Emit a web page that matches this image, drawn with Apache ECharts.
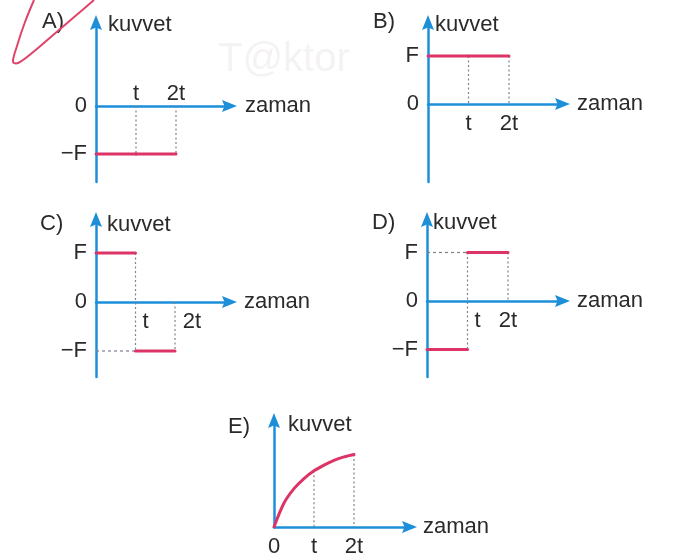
<!DOCTYPE html>
<html>
<head>
<meta charset="utf-8">
<script src="https://cdn.jsdelivr.net/npm/echarts@6/dist/echarts.min.js"></script>
<style>
  html, body { margin: 0; padding: 0; background: #ffffff; }
  #chart { width: 677px; height: 558px; }
</style>
</head>
<body>
<div id="chart"></div>
<script>
// Five force–time sketches (options A–E), each drawn on its own grid.
const FONT = '"Liberation Sans", Arial, Helvetica, sans-serif';
const AXIS_BLUE = '#1d8fd9';
const FORCE_RED = '#dc3466';
const GUIDE_GREY = '#7d818c';
const INK = '#2a2a2a';

// Tick values and their labels
const timeTicks = [1, 2];
const timeTickLabels = ['t', '2t'];
const forceLevels = [1, 0, -1];
const forceLabels = ['F', '0', '−F'];

// Constant force on each interval [0,t] and [t,2t], in units of F
const forceA = [-1, -1];
const forceB = [1, 1];
const forceC = [1, -1];
const forceD = [-1, 1];

// Option E: rising, levelling-off force curve
const curveTimes = [0, 0.25, 0.5, 0.75, 1, 1.25, 1.5, 1.75, 2];
const curveE = [0, 0.50, 0.80, 1.01, 1.17, 1.29, 1.39, 1.46, 1.51];

// Pixel layout of each small plot (origin, units, arrow ends, label placement)
const ARROW = [12, 15];
const ARROW_PATH = 'path://M6,0 L12,15 L6,12.5 L0,15 Z';
const HALF = ARROW[1] / 2;
const layouts = [
  { tag: 'A)', tagX: 42, tagY: 21.5, ox: 96, oy: 106, xs: 40, ys: 48, tip: 237, top: 15, bottom: 182,
    nameY: 25, nameDx: 12, zamanX: 245, yTicks: [0, -1], xInside: true, xShift: [0, 0], force: forceA },
  { tag: 'B)', tagX: 373, tagY: 21.5, ox: 428, oy: 104, xs: 40.5, ys: 48, tip: 570, top: 15, bottom: 182,
    nameY: 25, nameDx: 7, zamanX: 577, yTicks: [1, 0], xInside: false, xShift: [0, 0], force: forceB },
  { tag: 'C)', tagX: 40, tagY: 223.5, ox: 96, oy: 302, xs: 39.5, ys: 49, tip: 237, top: 212, bottom: 377,
    nameY: 225, nameDx: 11, zamanX: 244, yTicks: [1, 0, -1], xInside: false, xShift: [10, 17], force: forceC },
  { tag: 'D)', tagX: 372, tagY: 223, ox: 427, oy: 301, xs: 40.5, ys: 48.5, tip: 570, top: 212, bottom: 377,
    nameY: 223, nameDx: 6, zamanX: 577, yTicks: [1, 0, -1], xInside: false, xShift: [10, 0], force: forceD },
  { tag: 'E)', tagX: 228, tagY: 426.5, ox: 274, oy: 527, xs: 40, ys: 48, tip: 417, top: 413, bottom: 527,
    nameY: 425, nameDx: 14, zamanX: 423, yTicks: [], xInside: false, xShift: [0, 0], curve: true }
];

const textBase = { color: INK, fontSize: 22, fontFamily: FONT };

const grids = [], xAxes = [], yAxes = [], series = [], graphics = [];

function redLine(i, data, smooth) {
  return {
    type: 'line', xAxisIndex: i, yAxisIndex: i, data: data,
    smooth: smooth ? 0.3 : false,
    showSymbol: false, silent: true, z: 3,
    lineStyle: { color: FORCE_RED, width: 3, cap: 'round' }
  };
}
function guide(i, data, dash) {
  return {
    type: 'line', xAxisIndex: i, yAxisIndex: i, data: data,
    showSymbol: false, silent: true, z: 1,
    lineStyle: { color: GUIDE_GREY, width: 1.2, type: dash }
  };
}

layouts.forEach((L, i) => {
  const lineEndX = L.tip - HALF;
  const lineEndY = L.top + HALF;
  grids.push({ left: L.ox, top: lineEndY, width: lineEndX - L.ox, height: L.bottom - lineEndY });

  const rich = {};
  L.xShift.forEach((s, k) => {
    rich['s' + k] = Object.assign({}, textBase, { padding: [0, 0, 0, 2 * s] });
  });
  const xValues = L.curve ? [0].concat(timeTicks) : timeTicks.slice();

  // the time axis sits on the zero-force level: shift it up from the grid bottom
  xAxes.push({
    type: 'value', gridIndex: i, min: 0, max: (lineEndX - L.ox) / L.xs,
    position: 'bottom', offset: -(L.bottom - L.oy),
    axisLine: { onZero: false, symbol: ['none', ARROW_PATH], symbolSize: ARROW,
                lineStyle: { color: AXIS_BLUE, width: 2.5 } },
    axisTick: { show: false }, splitLine: { show: false },
    axisLabel: Object.assign({}, textBase, {
      customValues: xValues, inside: L.xInside, margin: L.xInside ? 1 : 9,
      rich: rich,
      formatter: (v) => {
        const k = timeTicks.indexOf(v);
        if (k >= 0) return '{s' + k + '|' + timeTickLabels[k] + '}';
        return v === 0 ? '0' : '';
      }
    }),
    name: 'zaman', nameLocation: 'end', nameGap: L.zamanX - lineEndX,
    nameTextStyle: Object.assign({}, textBase, { align: 'left', verticalAlign: 'middle' })
  });

  const ymax = (L.oy - lineEndY) / L.ys;
  const ymin = -(L.bottom - L.oy) / L.ys;
  yAxes.push({
    type: 'value', gridIndex: i, min: ymin, max: ymax, position: 'left',
    axisLine: { onZero: false, symbol: ['none', ARROW_PATH], symbolSize: ARROW,
                lineStyle: { color: AXIS_BLUE, width: 2.5 } },
    axisTick: { show: false }, splitLine: { show: false },
    axisLabel: Object.assign({}, textBase, {
      show: L.yTicks.length > 0,
      customValues: L.yTicks.length ? L.yTicks : [0], margin: 9,
      formatter: (v) => {
        const k = forceLevels.indexOf(v);
        return k >= 0 ? forceLabels[k] : '';
      }
    }),
    name: 'kuvvet', nameLocation: 'end', nameGap: -(L.nameY - lineEndY),
    nameTextStyle: Object.assign({}, textBase, { align: 'left', verticalAlign: 'middle', padding: [0, 0, 0, L.nameDx] })
  });

  if (L.force) {
    const f = L.force;
    const start = (k) => (k === 0 ? 0 : timeTicks[k - 1]);
    f.forEach((lv, k) => series.push(redLine(i, [[start(k), lv], [timeTicks[k], lv]])));
    // dotted drop lines at each time tick
    for (let b = 0; b < timeTicks.length; b++) {
      const prev = f[b];
      const next = b + 1 < f.length ? f[b + 1] : 0;
      series.push(guide(i, [[timeTicks[b], Math.max(prev, next, 0)], [timeTicks[b], Math.min(prev, next, 0)]], [2, 2.5]));
    }
    // dashed level line back to the force axis when the level changes
    for (let k = 1; k < f.length; k++) {
      if (f[k] !== f[k - 1]) series.push(guide(i, [[0, f[k]], [start(k), f[k]]], [3, 3]));
    }
  } else if (L.curve) {
    series.push(redLine(i, curveTimes.map((t, k) => [t, curveE[k]]), true));
    timeTicks.forEach((t) => {
      const v = curveE[curveTimes.indexOf(t)];
      series.push(guide(i, [[t, v], [t, 0]], [2, 2.5]));
    });
  }

  graphics.push({
    type: 'text', x: L.tagX, y: L.tagY, silent: true,
    style: { text: L.tag, fill: INK, font: '22px ' + FONT, verticalAlign: 'middle' }
  });
});

// faint publisher stamp and the hand-drawn tick next to option A
graphics.push({
  type: 'text', x: 218, y: 60, z: -10, silent: true,
  style: { text: 'T@ktor', fill: '#f5f2f2', font: '40px ' + FONT, verticalAlign: 'middle' }
});
graphics.push({
  type: 'polyline', silent: true, z: 10,
  shape: { points: [[34, 0], [25, 22], [17, 46], [13, 62], [18, 63], [32, 53], [52, 36], [73, 18], [94, 0]], smooth: 0.35 },
  style: { stroke: '#e0436a', lineWidth: 2, fill: null }
});

const chart = echarts.init(document.getElementById('chart'), null, { renderer: 'canvas' });
chart.setOption({
  animation: false,
  backgroundColor: '#ffffff',
  grid: grids,
  xAxis: xAxes,
  yAxis: yAxes,
  series: series,
  graphic: graphics
});
</script>
</body>
</html>
